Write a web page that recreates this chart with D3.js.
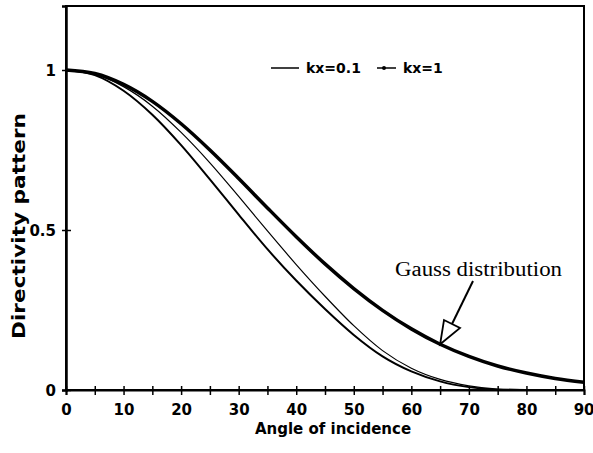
<!DOCTYPE html>
<html>
<head>
<meta charset="utf-8">
<script src="https://cdn.jsdelivr.net/npm/d3@7"></script>
<style>
  body { margin: 0; background: #fff; }
  svg { display: block; }
  .tick text { font-family: "DejaVu Sans", Arial, sans-serif; font-weight: bold; font-size: 15px; fill: #000; }
</style>
</head>
<body>
<script>
// datos
const angles = [0, 5, 10, 15, 20, 25, 30, 35, 40, 45, 50, 55, 60, 65, 70, 75, 80, 85, 90];
const kx01   = [1, 0.984, 0.935, 0.86, 0.765, 0.658, 0.548, 0.44, 0.342, 0.253, 0.172, 0.105, 0.058, 0.027, 0.009, 0.001, 0, 0, 0];
const kx1    = [1, 0.987, 0.948, 0.887, 0.805, 0.71, 0.605, 0.497, 0.392, 0.293, 0.201, 0.123, 0.068, 0.033, 0.013, 0.003, 0.001, 0, 0];
const gauss  = [1, 0.989, 0.955, 0.902, 0.832, 0.75, 0.661, 0.569, 0.479, 0.394, 0.317, 0.249, 0.191, 0.143, 0.105, 0.075, 0.053, 0.036, 0.024];
const xTicks = d3.range(0, 91, 5);
const yTicks = [0, 0.25, 0.5, 0.75, 1];

const width = 593, height = 453;
const margin = { left: 66, top: 6, right: 9, bottom: 63 };
const w = width - margin.left - margin.right;
const h = height - margin.top - margin.bottom;

const svg = d3.select("body").append("svg").attr("width", width).attr("height", height);
const g = svg.append("g").attr("transform", `translate(${margin.left},${margin.top})`);

const x = d3.scaleLinear().domain([0, 90]).range([0, w]);
const y = d3.scaleLinear().domain([0, 1.2]).range([h, 0]);

// marco
g.append("rect").attr("width", w).attr("height", h)
  .attr("fill", "none").attr("stroke", "#000").attr("stroke-width", 2);

// ejes
const xAxis = g.append("g").attr("transform", `translate(0,${h})`)
  .call(d3.axisBottom(x).tickValues(xTicks).tickSize(5).tickPadding(9)
    .tickFormat(d => d % 10 === 0 ? d : ""));
xAxis.select(".domain").attr("stroke-width", 2);
xAxis.selectAll(".tick line").attr("y1", -4).attr("stroke-width", 1.5);
// la etiqueta 90 queda pegada al borde derecho
xAxis.selectAll(".tick text").filter(d => d === 90)
  .attr("text-anchor", "end").attr("dx", 10);

const yAxis = g.append("g")
  .call(d3.axisLeft(y).tickValues(yTicks).tickSize(4).tickPadding(6)
    .tickFormat(d => (d === 0 || d === 0.5 || d === 1) ? d : ""));
yAxis.select(".domain").attr("stroke-width", 2.5);
yAxis.selectAll(".tick line")
  .attr("x2", d => (d === 0.25 || d === 0.75) ? -1 : -4)
  .attr("x1", d => (d === 0.25 || d === 0.75) ? 1 : 5)
  .attr("stroke-width", 1.5);
yAxis.selectAll(".tick text").attr("dy", "0.35em");

// titulos de ejes
svg.append("text")
  .attr("x", 333).attr("y", 434)
  .attr("text-anchor", "middle")
  .attr("font-family", "DejaVu Sans, Arial, sans-serif")
  .attr("font-weight", "bold").attr("font-size", 15)
  .text("Angle of incidence");

svg.append("text")
  .attr("transform", `translate(25,226) rotate(-90)`)
  .attr("text-anchor", "middle")
  .attr("font-family", "DejaVu Sans, Arial, sans-serif")
  .attr("font-weight", "bold").attr("font-size", 18)
  .attr("textLength", 226).attr("lengthAdjust", "spacingAndGlyphs")
  .text("Directivity pattern");

// curvas
const line = vals => d3.line()
  .x((d, i) => x(angles[i]))
  .y(d => y(d))
  .curve(d3.curveMonotoneX)(vals);

g.append("path").attr("d", line(kx01)).attr("fill", "none").attr("stroke", "#000").attr("stroke-width", 2);
g.append("path").attr("d", line(kx1)).attr("fill", "none").attr("stroke", "#000").attr("stroke-width", 1.2);
g.append("path").attr("d", line(gauss)).attr("fill", "none").attr("stroke", "#000").attr("stroke-width", 3.5);

// leyenda
const leg = svg.append("g").attr("font-family", "DejaVu Sans, Arial, sans-serif")
  .attr("font-weight", "bold").attr("font-size", 14);
leg.append("line").attr("x1", 271).attr("x2", 299).attr("y1", 68).attr("y2", 68)
  .attr("stroke", "#000").attr("stroke-width", 1.5);
leg.append("text").attr("x", 306).attr("y", 73).text("kx=0.1");
leg.append("line").attr("x1", 377).attr("x2", 396).attr("y1", 68).attr("y2", 68)
  .attr("stroke", "#000").attr("stroke-width", 1.5);
leg.append("circle").attr("cx", 384).attr("cy", 68).attr("r", 2).attr("fill", "#000");
leg.append("text").attr("x", 403).attr("y", 73).text("kx=1");

// anotacion Gauss
svg.append("text").attr("x", 395).attr("y", 276)
  .attr("font-family", "Liberation Serif, Times New Roman, serif")
  .attr("font-size", 20)
  .attr("textLength", 167).attr("lengthAdjust", "spacingAndGlyphs")
  .text("Gauss distribution");

const tip = [x(65) + margin.left, y(0.143) + margin.top];
svg.append("line").attr("x1", 473).attr("y1", 281).attr("x2", 452).attr("y2", 324)
  .attr("stroke", "#000").attr("stroke-width", 2);
svg.append("path")
  .attr("d", `M${tip[0]},${tip[1]} L444,320 L460,328 Z`)
  .attr("fill", "#fff").attr("stroke", "#000").attr("stroke-width", 1.8);
</script>
</body>
</html>
